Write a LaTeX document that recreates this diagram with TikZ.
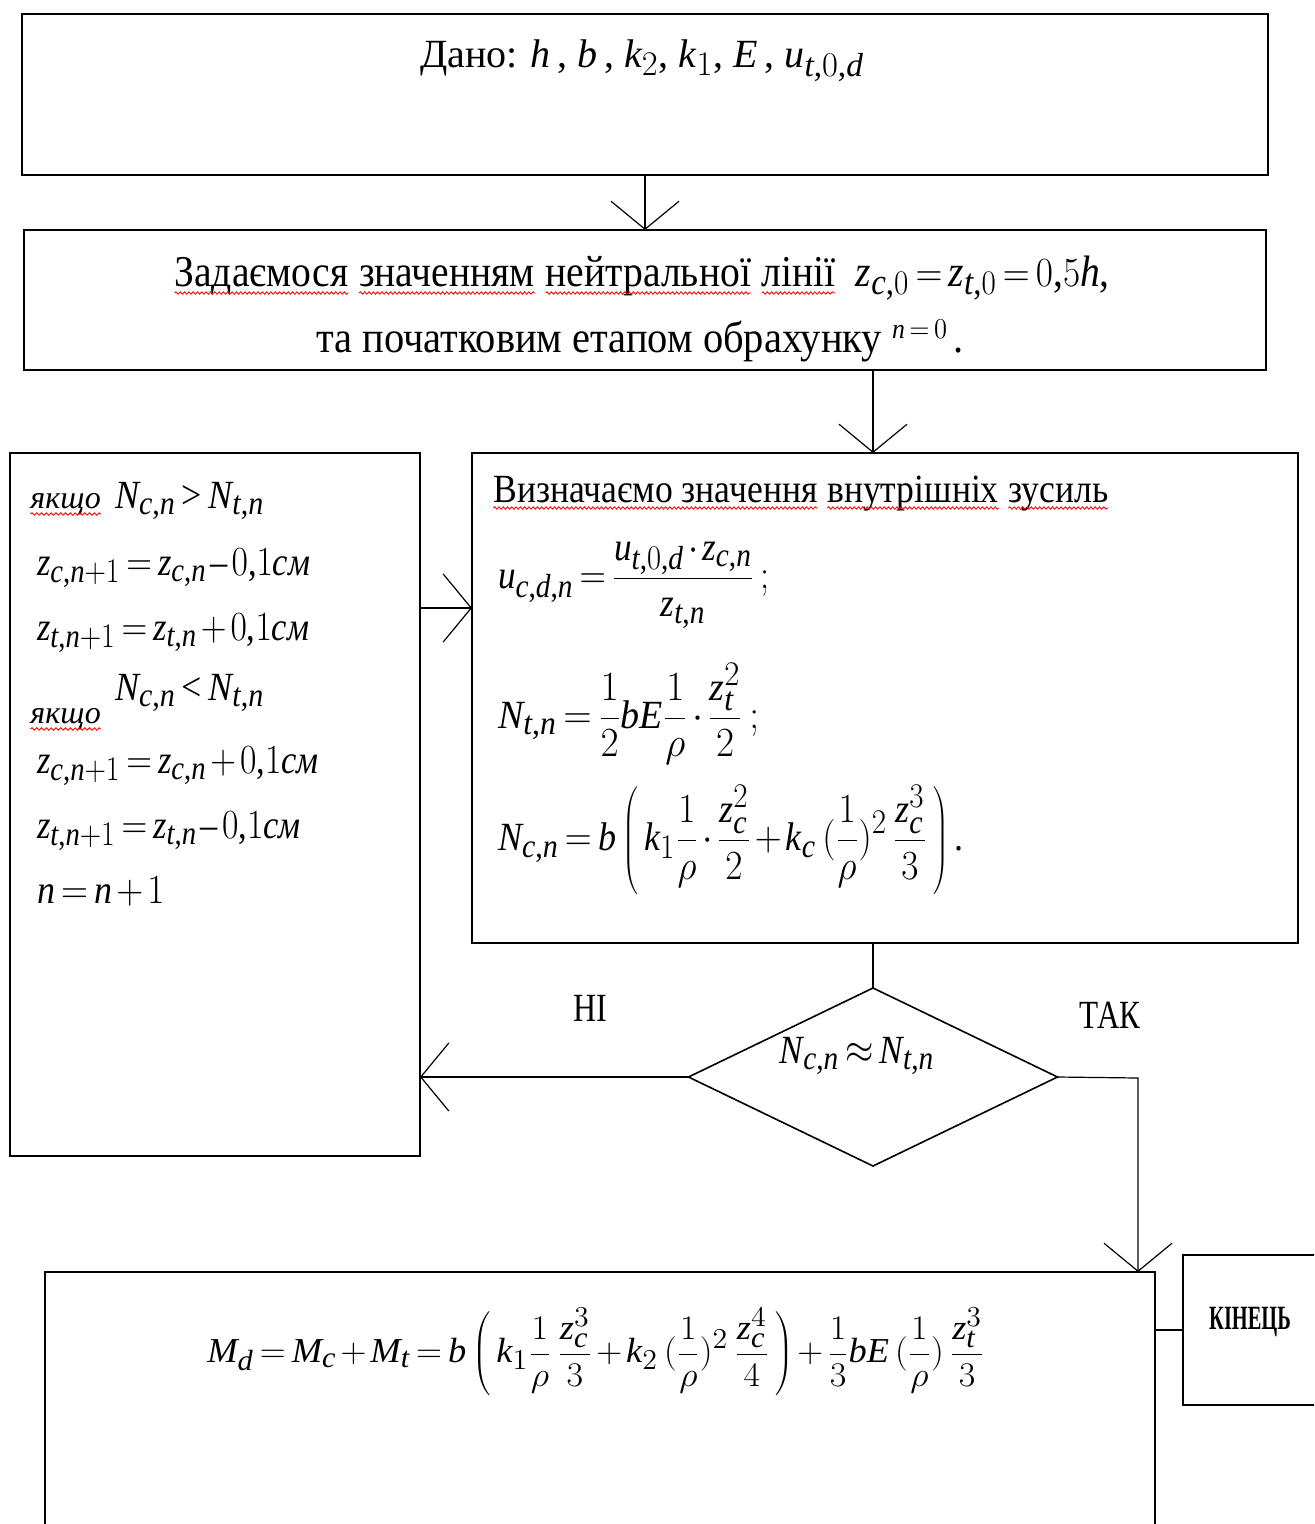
\documentclass[tikz,border=0pt]{standalone}
\usepackage{fontspec}
\setmainfont{Liberation Serif}
\usepackage[italic]{mathastext}
\usepackage{graphicx}
\usetikzlibrary{shapes.geometric,arrows.meta,decorations.pathmorphing}
\newcommand\rwave[1]{\tikz[baseline=(w.base)]{\node[inner sep=0pt,outer sep=0pt] (w) {#1};
  \draw[red, line width=0.45pt, decorate, decoration={snake, amplitude=0.6pt, segment length=2.4pt}] ([yshift=-3pt]w.base west) -- ([yshift=-3pt]w.base east);}}
\newcommand\sx[2]{\scalebox{#1}[1]{#2}}
\thickmuskip=3mu
\medmuskip=2mu
\begin{document}
\begin{tikzpicture}[x=0.5pt,y=-0.5pt,
  box/.style={draw, line width=1pt, inner sep=0pt, outer sep=0pt, rectangle},
  conn/.style={line width=0.6pt},
  arr/.style={conn, -{Straight Barb[length=14pt,width=34pt]}},
  txt/.style={inner sep=0pt, outer sep=0pt, font=\fontsize{20}{24}\selectfont},
  big/.style={inner sep=0pt, outer sep=0pt, font=\fontsize{22}{26}\selectfont},
  small/.style={inner sep=0pt, outer sep=0pt, font=\fontsize{16}{18}\selectfont\itshape},
]
\useasboundingbox (0,0) rectangle (1314,1524);
\fill[white] (0,0) rectangle (1314,1524);
\clip (0,0) rectangle (1314,1524);

% boxes
\node[box, minimum width=623pt, minimum height=80.5pt] (b1) at (645,94.5) {};
\node[box, minimum width=621pt, minimum height=70pt] (b2) at (645,300) {};
\node[box, minimum width=413pt, minimum height=245pt] (b3) at (885,698) {};
\node[box, minimum width=205pt, minimum height=351.5pt] (b4) at (215,804.5) {};
\node[draw, line width=0.8pt, shape=diamond, minimum width=184.5pt, minimum height=89pt, inner sep=0pt, outer sep=0pt] (dia) at (873,1077) {};
\node[box, minimum width=555pt, minimum height=164pt] (b5) at (600,1436) {};
\node[box, minimum width=78.5pt, minimum height=75pt] (b6) at (1261.5,1330) {};

% texts
\node[txt, anchor=base] (t1) at (642,68) {Дано: $h$\,, $b$\,, $k_2$, $k_1$, $E$\,, $u_{t,0,d}$};
\node[big, anchor=base] (t2a) at (642,287) {\sx{0.9}{\rwave{Задаємося} \rwave{значенням} \rwave{нейтральної} \rwave{лінії} \ $z_{c,0}=z_{t,0}=0{,}5h$,}};
\node[big, anchor=base] (t2b) at (640,352) {\sx{0.92}{та початковим етапом обрахунку \raisebox{7pt}{\fontsize{14}{14}\selectfont$n=0$}\,.}};

\node[txt, anchor=base west] (t3) at (493,502) {\sx{0.89}{\rwave{Визначаємо значення} \rwave{внутрішніх} \rwave{зусиль}}};
\node[txt, anchor=west] (f1) at (498,585) {\sx{0.88}{$\displaystyle u_{c,d,n}=\frac{u_{t,0,d}\cdot z_{c,n}}{z_{t,n}}\,;$}};
\node[txt, anchor=west] (f2) at (498,714) {\sx{0.95}{$\displaystyle N_{t,n}=\frac{1}{2}bE\frac{1}{\rho}\cdot\frac{z_t^2}{2}\,;$}};
\node[txt, anchor=west] (f3) at (498,840) {\sx{0.9}{$\displaystyle N_{c,n}=b\left(\,k_1\frac{1}{\rho}\cdot\frac{z_c^2}{2}+k_c\,(\frac{1}{\rho})^2\,\frac{z_c^3}{3}\,\right).$}};

\node[small, anchor=base west] (k1) at (30,508) {\rwave{якщо}};
\node[txt, anchor=base west] (l1) at (115,508) {\sx{0.9}{$N_{c,n}>N_{t,n}$}};
\node[txt, anchor=base west] (l2) at (37,575) {\sx{0.86}{$z_{c,n+1}=z_{c,n}-0{,}1\textit{см}$}};
\node[txt, anchor=base west] (l3) at (37,640) {\sx{0.86}{$z_{t,n+1}=z_{t,n}+0{,}1\textit{см}$}};
\node[txt, anchor=base west] (l4) at (115,700) {\sx{0.9}{$N_{c,n}<N_{t,n}$}};
\node[small, anchor=base west] (k2) at (30,723) {\rwave{якщо}};
\node[txt, anchor=base west] (l5) at (37,773) {\sx{0.86}{$z_{c,n+1}=z_{c,n}+0{,}1\textit{см}$}};
\node[txt, anchor=base west] (l6) at (37,838) {\sx{0.86}{$z_{t,n+1}=z_{t,n}-0{,}1\textit{см}$}};
\node[txt, anchor=base west] (l7) at (37,903) {\sx{0.9}{$n=n+1$}};

\node[txt, anchor=base] (td) at (857,1063) {\sx{0.88}{$N_{c,n}\approx N_{t,n}$}};
\node[txt] (no) at (590,1008) {\sx{0.8}{НІ}};
\node[txt] (yes) at (1110,1015) {\sx{0.78}{ТАК}};
\node[txt, font=\fontsize{17.5}{20}\selectfont] (f4) at (596,1352) {\sx{1.04}{$\displaystyle M_d=M_c+M_t=b\left(\,k_1\frac{1}{\rho}\,\frac{z_c^3}{3}+k_2\,(\frac{1}{\rho})^2\,\frac{z_c^4}{4}\,\right)+\frac{1}{3}bE\,(\frac{1}{\rho})\,\frac{z_t^3}{3}$}};
\node[txt, font=\fontsize{17}{20}\selectfont\bfseries] (tend) at (1250,1322) {\sx{0.6}{КІНЕЦЬ}};

% connectors
\coordinate (c1) at (446,608);
\coordinate (tk) at (1138,1078);
\draw[arr] (b1.south) -- (b2.north);
\draw[arr] (b2.south -| dia.north) -- (b3.north -| dia.north);
\draw[arr] (b4.east |- c1) -- (b3.west |- c1);
\draw[conn] (b3.south -| dia.north) -- (dia.north);
\draw[arr] (dia.west) -- (b4.east |- dia.west);
\draw[arr] (dia.east) -- (tk) -- (tk |- b5.north);
\draw[conn, line width=1pt] (b5.east |- b6.west) -- (b6.west);
\end{tikzpicture}
\end{document}
